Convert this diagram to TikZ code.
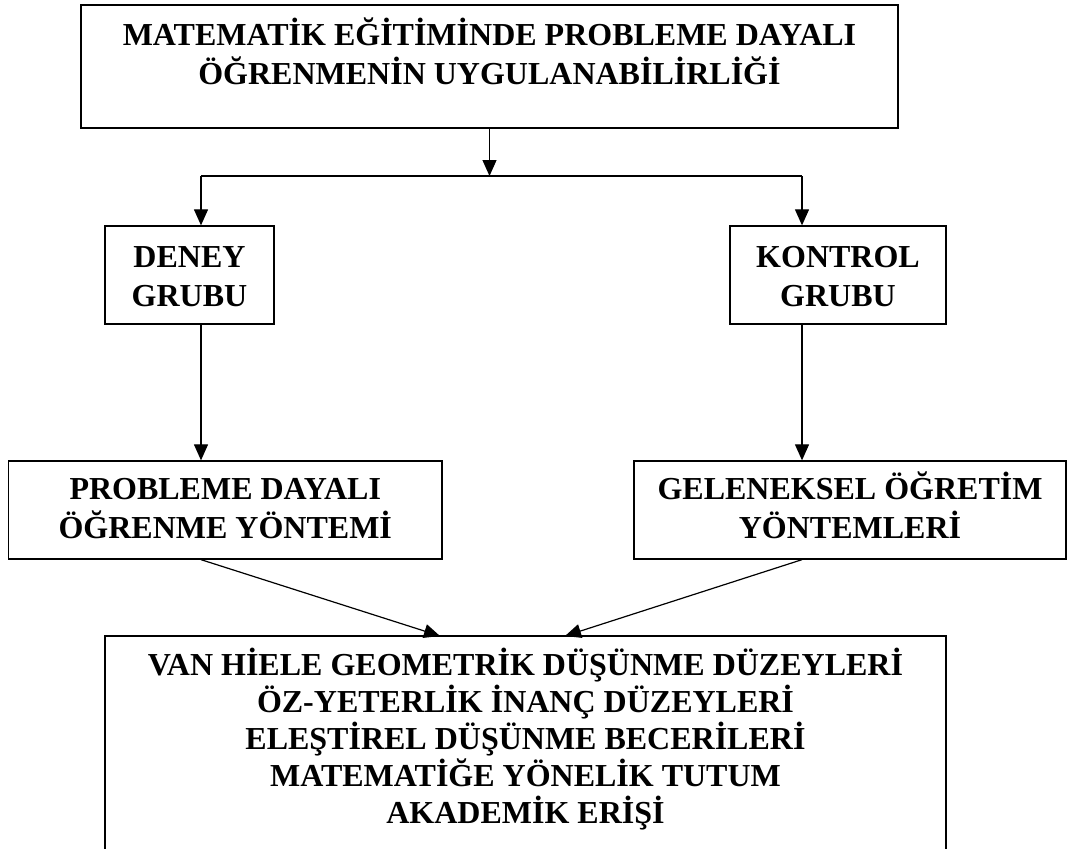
\documentclass[tikz,border=0pt]{standalone}
\usepackage{fontspec}
\setmainfont{Liberation Serif}
\usetikzlibrary{arrows.meta}
\tikzset{
  x=1pt, y=-1pt,
  box/.style={draw, line width=1.3pt, inner sep=0pt},
  txt/.style={align=center, inner sep=0pt, anchor=base, font=\bfseries\fontsize{32}{39}\selectfont},
  txtb/.style={align=center, inner sep=0pt, anchor=base, font=\bfseries\fontsize{32}{37}\selectfont},
  arr/.style={line width=1.2pt, -{Triangle[length=16pt,width=14pt]}},
  ln/.style={line width=1.2pt}
}
\begin{document}
\begin{tikzpicture}
\useasboundingbox (0,0) rectangle (1070,848);
\clip (0,0) rectangle (1070,848);
% boxes
\node[box, minimum width=817pt, minimum height=123pt] (top) at (489.5,66.5) {};
\node[box, minimum width=169pt, minimum height=98pt] (deney) at (189.5,275) {};
\node[box, minimum width=216pt, minimum height=98pt] (kontrol) at (838,275) {};
\node[box, minimum width=433.5pt, minimum height=98pt] (pdo) at (225.25,510) {};
\node[box, minimum width=432pt, minimum height=98pt] (gel) at (850,510) {};
\node[box, minimum width=841pt, minimum height=240pt] (sonuc) at (525.5,756) {};
% texts (anchor base = baseline of last line)
\node[txt] (topt) at (489.5,85) {MATEMATİK EĞİTİMİNDE PROBLEME DAYALI\\ÖĞRENMENİN UYGULANABİLİRLİĞİ};
\node[txt] (deneyt) at (189.5,306) {DENEY\\GRUBU};
\node[txt] (kontrolt) at (838,306) {KONTROL\\GRUBU};
\node[txt] (pdot) at (225.25,538) {PROBLEME DAYALI\\ÖĞRENME YÖNTEMİ};
\node[txt] (gelt) at (850,538) {GELENEKSEL ÖĞRETİM\\YÖNTEMLERİ};
\node[txtb] (sonuct) at (525.5,823) {VAN HİELE GEOMETRİK DÜŞÜNME DÜZEYLERİ\\ÖZ-YETERLİK İNANÇ DÜZEYLERİ\\ELEŞTİREL DÜŞÜNME BECERİLERİ\\MATEMATİĞE YÖNELİK TUTUM\\AKADEMİK ERİŞİ};
% junctions
\coordinate (j) at (489.5,176);
\coordinate (jl) at (201,176);
\coordinate (jr) at (802,176);
\coordinate (tl) at (440,636);
\coordinate (tr) at (565,636);
% connectors
\draw[arr] (top.south) -- (j);
\draw[ln] (jl) -- (jr);
\draw[arr] (jl) -- (jl |- deney.north);
\draw[arr] (jr) -- (jr |- kontrol.north);
\draw[arr] (jl |- deney.south) -- (jl |- pdo.north);
\draw[arr] (jr |- kontrol.south) -- (jr |- gel.north);
\draw[arr] (jl |- pdo.south) -- (tl);
\draw[arr] (jr |- gel.south) -- (tr);
\end{tikzpicture}
\end{document}
